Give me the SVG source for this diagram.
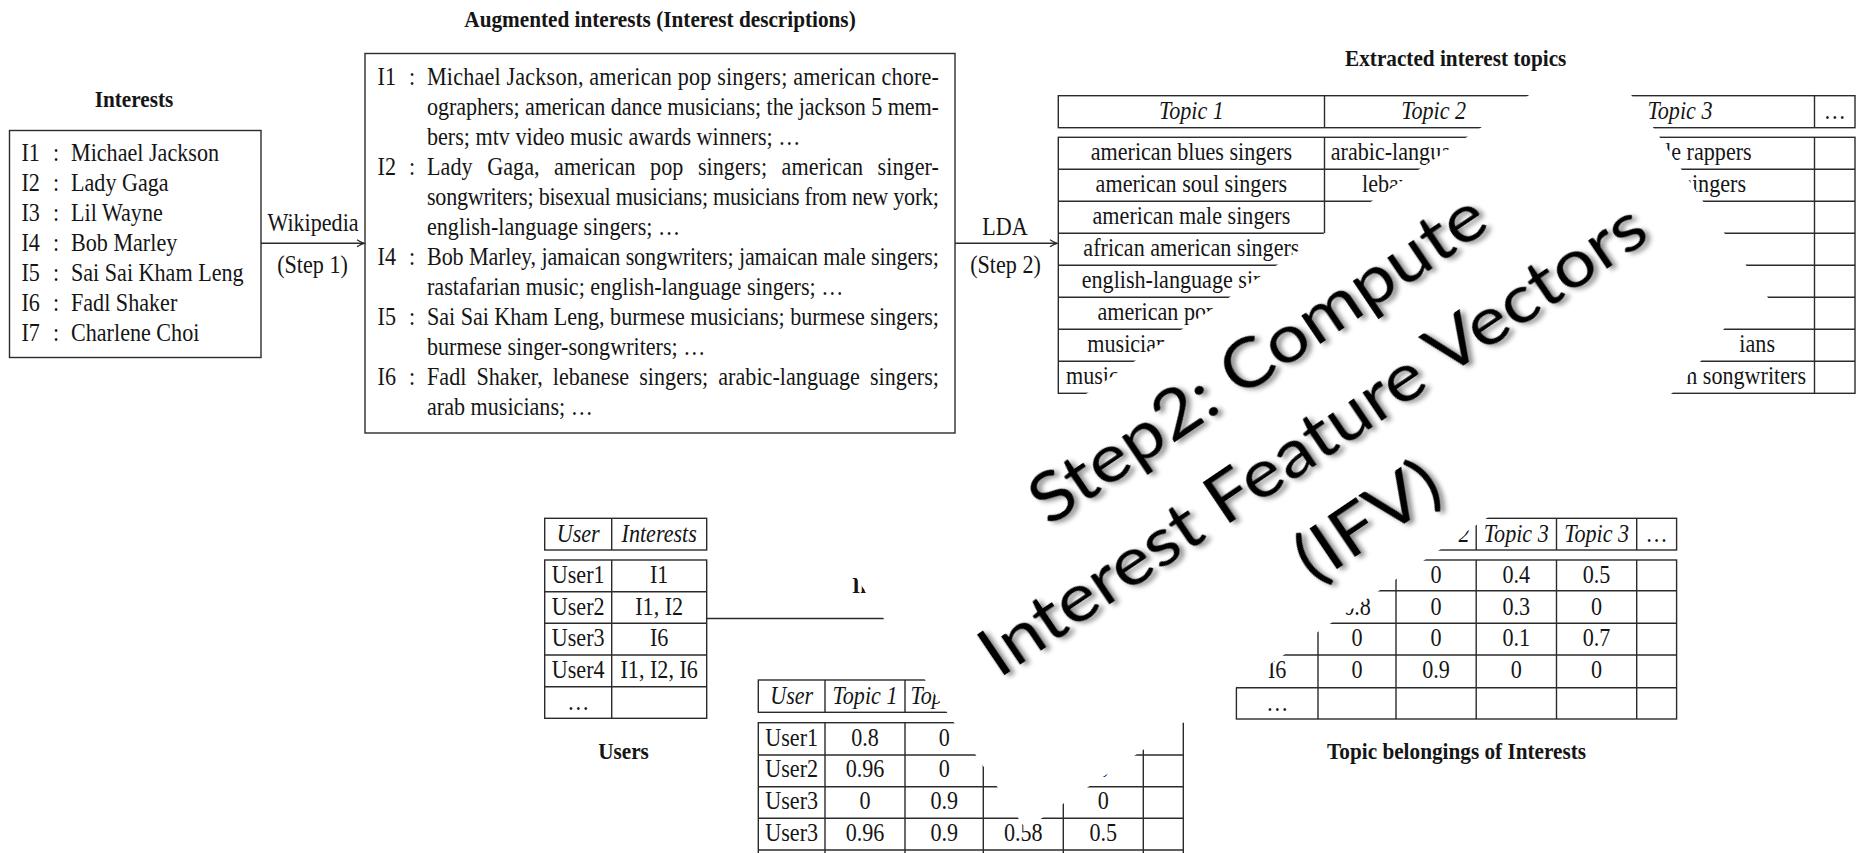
<svg xmlns="http://www.w3.org/2000/svg" width="1860" height="853" viewBox="0 0 1860 853">
<defs>
<style>
.t{font-family:"Liberation Serif","Times New Roman",serif;font-size:25px;fill:#151515}
.b{font-weight:bold;font-size:24px}
.i{font-style:italic}
.m{text-anchor:middle}
.e{text-anchor:end}
.ln{stroke:#2b2b2b;stroke-width:1.4;fill:none}
.big{font-family:Lato,"Open Sans","DejaVu Sans",sans-serif;font-size:68px;fill:#000;text-anchor:middle}
</style>
<marker id="arr" markerWidth="10" markerHeight="10" refX="8" refY="5" orient="auto" markerUnits="userSpaceOnUse">
<path d="M1,1.5 Q5,4.2 8,5 Q5,5.8 1,8.5" fill="none" stroke="#2b2b2b" stroke-width="1.2"/>
</marker>
<filter id="sh" x="-10%" y="-30%" width="120%" height="160%">
<feDropShadow dx="3" dy="4" stdDeviation="2.5" flood-color="#000" flood-opacity="0.45"/>
</filter>
</defs>
<rect width="1860" height="853" fill="#fff"/>

<g id="interests">
<text class="t b m" transform="translate(134 107) scale(.885 1)">Interests</text>
<rect class="ln" x="9.5" y="130.5" width="251.5" height="227"/>
<g transform="translate(21.5 0) scale(.885 1)">
<text class="t" y="161">I1</text><text class="t" y="191">I2</text><text class="t" y="221">I3</text><text class="t" y="251">I4</text><text class="t" y="281">I5</text><text class="t" y="311">I6</text><text class="t" y="341">I7</text>
</g>
<g transform="translate(53 0) scale(.885 1)">
<text class="t" y="161">:</text><text class="t" y="191">:</text><text class="t" y="221">:</text><text class="t" y="251">:</text><text class="t" y="281">:</text><text class="t" y="311">:</text><text class="t" y="341">:</text>
</g>
<g transform="translate(71 0) scale(.885 1)">
<text class="t" y="161">Michael Jackson</text><text class="t" y="191">Lady Gaga</text><text class="t" y="221">Lil Wayne</text><text class="t" y="251">Bob Marley</text><text class="t" y="281">Sai Sai Kham Leng</text><text class="t" y="311">Fadl Shaker</text><text class="t" y="341">Charlene Choi</text>
</g>
</g>

<g id="augmented">
<text class="t b m" transform="translate(660 27) scale(.885 1)">Augmented interests (Interest descriptions)</text>
<rect class="ln" x="365" y="53.5" width="590" height="379.5"/>
<g transform="translate(377.6 0) scale(.885 1)">
<text class="t" y="85">I1</text><text class="t" y="175">I2</text><text class="t" y="265">I4</text><text class="t" y="325">I5</text><text class="t" y="385">I6</text>
</g>
<g transform="translate(409 0) scale(.885 1)">
<text class="t" y="85">:</text><text class="t" y="175">:</text><text class="t" y="265">:</text><text class="t" y="325">:</text><text class="t" y="385">:</text>
</g>
<g transform="translate(427 0) scale(.885 1)">
<text class="t" y="85" textLength="578.5" lengthAdjust="spacing">Michael Jackson, american pop singers; american chore-</text>
<text class="t" y="115" textLength="578.5" lengthAdjust="spacing">ographers; american dance musicians; the jackson 5 mem-</text>
<text class="t" y="145">bers; mtv video music awards winners; …</text>
<text class="t" y="175" word-spacing="10" textLength="578.5" lengthAdjust="spacing">Lady Gaga, american pop singers; american singer-</text>
<text class="t" y="205" textLength="578.5" lengthAdjust="spacing">songwriters; bisexual musicians; musicians from new york;</text>
<text class="t" y="235">english-language singers; …</text>
<text class="t" y="265" textLength="578.5" lengthAdjust="spacing">Bob Marley, jamaican songwriters; jamaican male singers;</text>
<text class="t" y="295">rastafarian music; english-language singers; …</text>
<text class="t" y="325" textLength="578.5" lengthAdjust="spacing">Sai Sai Kham Leng, burmese musicians; burmese singers;</text>
<text class="t" y="355">burmese singer-songwriters; …</text>
<text class="t" y="385" word-spacing="5" textLength="578.5" lengthAdjust="spacing">Fadl Shaker, lebanese singers; arabic-language singers;</text>
<text class="t" y="415">arab musicians; …</text>
</g>
</g>

<g id="topics">
<text class="t b m" transform="translate(1455.7 66) scale(.885 1)">Extracted interest topics</text>
<rect class="ln" x="1058.3" y="95.7" width="796.7" height="32"/>
<line class="ln" x1="1324.5" y1="95.7" x2="1324.5" y2="127.7"/>
<line class="ln" x1="1814.5" y1="95.7" x2="1814.5" y2="127.7"/>
<text class="t i m" transform="translate(1191.4 119) scale(.885 1)">Topic 1</text>
<text class="t i m" transform="translate(1433.6 119) scale(.885 1)">Topic 2</text>
<text class="t i m" transform="translate(1680 119) scale(.885 1)">Topic 3</text>
<text class="t m" transform="translate(1834.7 119) scale(.885 1)">…</text>
<rect class="ln" x="1058.3" y="137.3" width="796.7" height="256"/>
<path class="ln" d="M1058.3 169.3H1855M1058.3 201.3H1855M1058.3 233.3H1855M1058.3 265.3H1855M1058.3 297.3H1855M1058.3 329.3H1855M1058.3 361.3H1855M1324.5 137.3V393.3M1814.5 137.3V393.3"/>
<text class="t m" transform="translate(1191.4 160.3) scale(.885 1)">american blues singers</text>
<text class="t m" transform="translate(1191.4 192.3) scale(.885 1)">american soul singers</text>
<text class="t m" transform="translate(1191.4 224.3) scale(.885 1)">american male singers</text>
<text class="t m" transform="translate(1191.4 256.3) scale(.885 1)">african american singers</text>
<text class="t" transform="translate(1081.7 288.3) scale(.885 1)">english-language sin</text>
<text class="t" transform="translate(1097.4 320.3) scale(.885 1)">american pop</text>
<text class="t" transform="translate(1087.3 352.3) scale(.885 1)">musicians</text>
<text class="t" transform="translate(1066 384.3) scale(.885 1)">music</text>
<text class="t" transform="translate(1330.7 160.3) scale(.885 1)">arabic-langua</text>
<text class="t" transform="translate(1362 192.3) scale(.885 1)">leban</text>
<text class="t e" transform="translate(1751.7 160.3) scale(.885 1)">le rappers</text>
<text class="t e" transform="translate(1746 192.3) scale(.885 1)">singers</text>
<text class="t e" transform="translate(1775 352.3) scale(.885 1)">ians</text>
<text class="t e" transform="translate(1806 384.3) scale(.885 1)">n songwriters</text>
</g>

<g id="users">
<rect class="ln" x="544.7" y="518.3" width="162" height="31.7"/>
<line class="ln" x1="611.7" y1="518.3" x2="611.7" y2="550"/>
<text class="t i m" transform="translate(578.2 541.5) scale(.885 1)">User</text>
<text class="t i m" transform="translate(659.2 541.5) scale(.885 1)">Interests</text>
<rect class="ln" x="544.7" y="560" width="162" height="158.3"/>
<path class="ln" d="M544.7 591.7H706.7M544.7 623.3H706.7M544.7 655H706.7M544.7 686.7H706.7M611.7 560V718.3"/>
<text class="t m" transform="translate(578.2 583) scale(.885 1)">User1</text>
<text class="t m" transform="translate(659.2 583) scale(.885 1)">I1</text>
<text class="t m" transform="translate(578.2 614.7) scale(.885 1)">User2</text>
<text class="t m" transform="translate(659.2 614.7) scale(.885 1)">I1, I2</text>
<text class="t m" transform="translate(578.2 646.3) scale(.885 1)">User3</text>
<text class="t m" transform="translate(659.2 646.3) scale(.885 1)">I6</text>
<text class="t m" transform="translate(578.2 678) scale(.885 1)">User4</text>
<text class="t m" transform="translate(659.2 678) scale(.885 1)">I1, I2, I6</text>
<text class="t m" transform="translate(578.2 709.7) scale(.885 1)">…</text>
<text class="t b m" transform="translate(623.5 759) scale(.885 1)">Users</text>
</g>

<g id="user-topics">
<rect class="ln" x="758.3" y="680" width="425" height="32.3"/>
<path class="ln" d="M825 680V712.3M905 680V712.3M983.3 680V712.3M1063.3 680V712.3M1143.3 680V712.3"/>
<text class="t i m" transform="translate(791.7 704) scale(.885 1)">User</text>
<text class="t i m" transform="translate(865 704) scale(.885 1)">Topic 1</text>
<text class="t i" transform="translate(910.5 704) scale(.885 1)">Top</text>
<rect class="ln" x="758.3" y="722.7" width="425" height="159"/>
<path class="ln" d="M758.3 755H1183.3M758.3 786.7H1183.3M758.3 818.3H1183.3M758.3 850H1183.3M825 722.7V881.7M905 722.7V881.7M983.3 722.7V881.7M1063.3 722.7V881.7M1143.3 722.7V881.7"/>
<text class="t m" transform="translate(791.7 745.7) scale(.885 1)">User1</text>
<text class="t m" transform="translate(865 745.7) scale(.885 1)">0.8</text>
<text class="t m" transform="translate(944.2 745.7) scale(.885 1)">0</text>
<text class="t m" transform="translate(791.7 777.3) scale(.885 1)">User2</text>
<text class="t m" transform="translate(865 777.3) scale(.885 1)">0.96</text>
<text class="t m" transform="translate(944.2 777.3) scale(.885 1)">0</text>
<text class="t m" transform="translate(1103.3 777.3) scale(.885 1)">0</text>
<text class="t m" transform="translate(791.7 809) scale(.885 1)">User3</text>
<text class="t m" transform="translate(865 809) scale(.885 1)">0</text>
<text class="t m" transform="translate(944.2 809) scale(.885 1)">0.9</text>
<text class="t m" transform="translate(1103.3 809) scale(.885 1)">0</text>
<text class="t m" transform="translate(791.7 840.7) scale(.885 1)">User3</text>
<text class="t m" transform="translate(865 840.7) scale(.885 1)">0.96</text>
<text class="t m" transform="translate(944.2 840.7) scale(.885 1)">0.9</text>
<text class="t m" transform="translate(1023.3 840.7) scale(.885 1)">0.58</text>
<text class="t m" transform="translate(1103.3 840.7) scale(.885 1)">0.5</text>
</g>

<g id="topic-belongings">
<rect class="ln" x="1236.4" y="518.3" width="440.2" height="31.7"/>
<path class="ln" d="M1318 518.3V550M1396 518.3V550M1476.2 518.3V550M1556.5 518.3V550M1636.7 518.3V550"/>
<text class="t i e" transform="translate(1469.5 542) scale(.885 1)">2</text>
<text class="t i m" transform="translate(1516.3 542) scale(.885 1)">Topic 3</text>
<text class="t i m" transform="translate(1596.6 542) scale(.885 1)">Topic 3</text>
<text class="t m" transform="translate(1656.6 542) scale(.885 1)">…</text>
<rect class="ln" x="1236.4" y="560" width="440.2" height="159"/>
<path class="ln" d="M1236.4 590.7H1676.6M1236.4 623.3H1676.6M1236.4 655H1676.6M1236.4 687.7H1676.6M1318 560V719M1396 560V719M1476.2 560V719M1556.5 560V719M1636.7 560V719"/>
<text class="t m" transform="translate(1436.1 583) scale(.885 1)">0</text>
<text class="t m" transform="translate(1516.3 583) scale(.885 1)">0.4</text>
<text class="t m" transform="translate(1596.6 583) scale(.885 1)">0.5</text>
<text class="t m" transform="translate(1357 614.5) scale(.885 1)">0.8</text>
<text class="t m" transform="translate(1436.1 614.5) scale(.885 1)">0</text>
<text class="t m" transform="translate(1516.3 614.5) scale(.885 1)">0.3</text>
<text class="t m" transform="translate(1596.6 614.5) scale(.885 1)">0</text>
<text class="t m" transform="translate(1357 646) scale(.885 1)">0</text>
<text class="t m" transform="translate(1436.1 646) scale(.885 1)">0</text>
<text class="t m" transform="translate(1516.3 646) scale(.885 1)">0.1</text>
<text class="t m" transform="translate(1596.6 646) scale(.885 1)">0.7</text>
<text class="t m" transform="translate(1277.2 678) scale(.885 1)">I6</text>
<text class="t m" transform="translate(1357 678) scale(.885 1)">0</text>
<text class="t m" transform="translate(1436.1 678) scale(.885 1)">0.9</text>
<text class="t m" transform="translate(1516.3 678) scale(.885 1)">0</text>
<text class="t m" transform="translate(1596.6 678) scale(.885 1)">0</text>
<text class="t m" transform="translate(1277.2 710.5) scale(.885 1)">…</text>
<text class="t b m" transform="translate(1456.6 759) scale(.885 1)">Topic belongings of Interests</text>
</g>

<g id="connectors">
<line class="ln" x1="261" y1="243.3" x2="364" y2="243.3" marker-end="url(#arr)"/>
<text class="t m" transform="translate(313 230.5) scale(.885 1)">Wikipedia</text>
<text class="t m" transform="translate(312.5 273) scale(.885 1)">(Step 1)</text>
<line class="ln" x1="955" y1="243.3" x2="1057" y2="243.3" marker-end="url(#arr)"/>
<text class="t m" transform="translate(1005 235) scale(.885 1)">LDA</text>
<text class="t m" transform="translate(1005.5 273) scale(.885 1)">(Step 2)</text>
<line class="ln" x1="707" y1="618.5" x2="895" y2="618.5"/>
<text class="t b" transform="translate(852 593) scale(.885 1)">In</text>
</g>

<g id="ifv-overlay" transform="translate(1311.9 438.8) rotate(-34)">
<polygon fill="#fff" points="-455.5,-163.5 457,-163.5 457,139 404,139 366,153 324,163.5 -455.5,163.5"/>
<g filter="url(#sh)">
<text class="big" y="-74" textLength="535" lengthAdjust="spacingAndGlyphs">Step2: Compute</text>
<text class="big" y="24" textLength="788" lengthAdjust="spacingAndGlyphs">Interest Feature Vectors</text>
<text class="big" y="122" textLength="160" lengthAdjust="spacingAndGlyphs">(IFV)</text>
</g>
</g>
</svg>
